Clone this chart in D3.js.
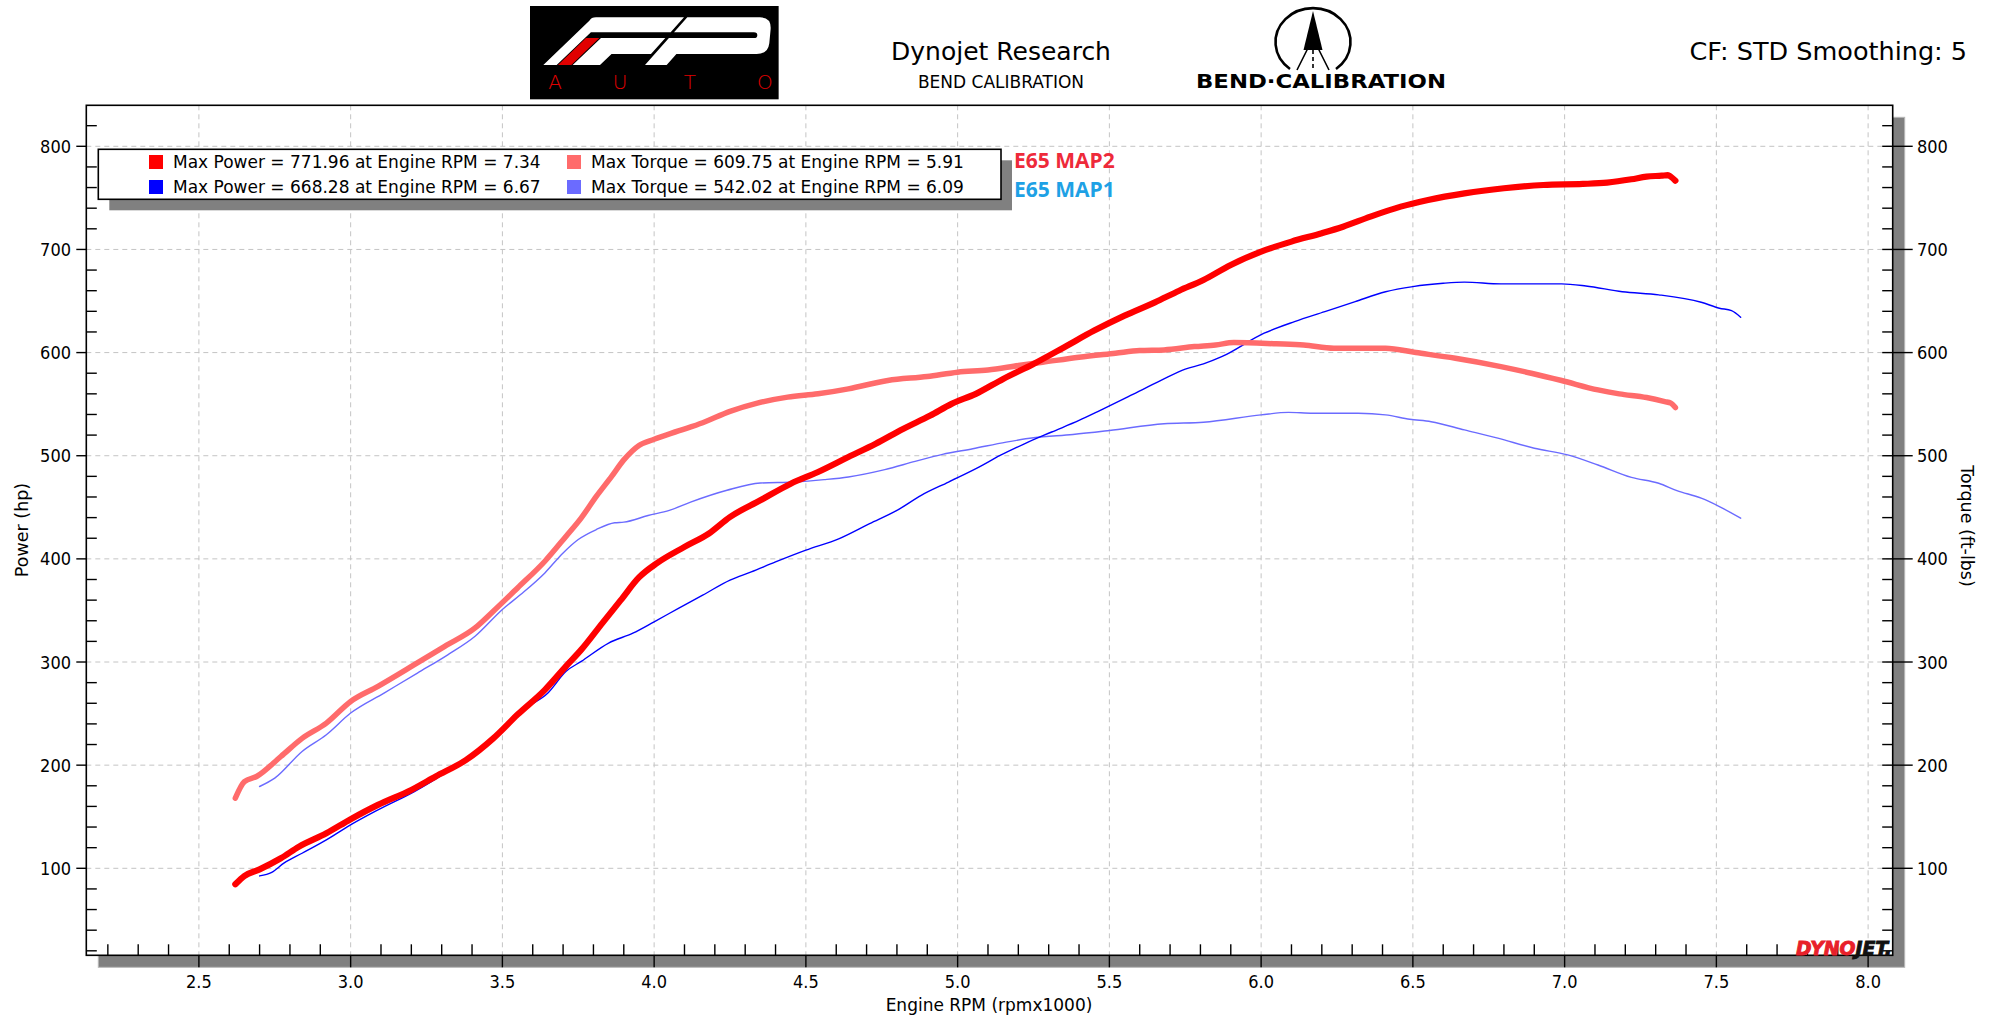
<!DOCTYPE html>
<html>
<head>
<meta charset="utf-8">
<script src="https://cdn.jsdelivr.net/npm/d3@7"></script>
<style>
  body { margin: 0; background: #fff; }
  svg { display: block; font-family: "DejaVu Sans Condensed", "Liberation Sans", sans-serif; }
  .wide { font-family: "DejaVu Sans", "Liberation Sans", sans-serif; }
</style>
</head>
<body>
<div id="chart"></div>
<script>
// ---- data ----
var map2PowerRpm = [2.62, 2.65, 2.70, 2.77, 2.83, 2.92, 3.00, 3.09, 3.20, 3.28, 3.38, 3.47, 3.55, 3.64, 3.71, 3.76, 3.83, 3.89, 3.95, 4.01, 4.10, 4.18, 4.25, 4.35, 4.45, 4.54, 4.64, 4.73, 4.82, 4.91, 4.98, 5.06, 5.15, 5.25, 5.35, 5.45, 5.55, 5.65, 5.73, 5.81, 5.90, 6.00, 6.10, 6.20, 6.27, 6.36, 6.46, 6.55, 6.67, 6.80, 6.93, 7.06, 7.14, 7.22, 7.27, 7.32, 7.34, 7.35, 7.365];
var map2PowerHp = [84.5, 92.6, 99, 109.7, 121, 134, 147.6, 161.5, 176, 189, 205, 226, 249, 273, 296, 312, 338, 360, 382, 396, 411.6, 424.5, 440.6, 456.8, 472.9, 484.2, 498.7, 511.6, 526, 539, 550.3, 560, 574.5, 589, 605, 621.3, 635.8, 648.7, 660, 670.4, 685, 697.9, 707.6, 715.7, 722, 731.8, 741.5, 748, 754.4, 759.3, 762.5, 763.5, 764.8, 768, 770.6, 771.5, 772, 770.5, 766.7];

var map2TorqueRpm = [2.62, 2.65, 2.69, 2.77, 2.84, 2.92, 3.00, 3.09, 3.21, 3.31, 3.41, 3.47, 3.55, 3.64, 3.71, 3.76, 3.81, 3.86, 3.90, 3.95, 4.00, 4.08, 4.16, 4.25, 4.34, 4.44, 4.54, 4.64, 4.77, 4.90, 5.00, 5.10, 5.20, 5.28, 5.40, 5.52, 5.60, 5.68, 5.78, 5.85, 5.91, 6.05, 6.14, 6.24, 6.41, 6.51, 6.64, 6.79, 6.89, 6.99, 7.11, 7.18, 7.27, 7.33, 7.35, 7.365];
var map2TorqueFtlb = [168, 184, 189, 208.4, 226, 240.8, 261.8, 276.4, 297.4, 315.2, 333, 349.2, 371.8, 397.7, 422, 439.8, 460.8, 480, 496, 510, 516, 524, 532, 543, 551, 556.8, 560, 564.8, 573, 576.8, 581, 583.2, 587.4, 590.6, 595.5, 599.4, 602, 602.6, 605.8, 607.4, 609.7, 608.5, 607.4, 604.2, 604.2, 600, 594.5, 586.4, 580, 572.9, 563.8, 560, 556.4, 552.5, 551, 546.7];

var map1PowerRpm = [2.70, 2.74, 2.78, 2.84, 2.92, 2.99, 3.09, 3.21, 3.32, 3.41, 3.49, 3.57, 3.65, 3.71, 3.76, 3.85, 3.93, 4.00, 4.08, 4.16, 4.25, 4.32, 4.40, 4.50, 4.61, 4.71, 4.80, 4.88, 4.97, 5.07, 5.14, 5.22, 5.31, 5.40, 5.47, 5.57, 5.67, 5.75, 5.81, 5.87, 6.01, 6.11, 6.21, 6.31, 6.41, 6.50, 6.60, 6.67, 6.79, 6.99, 7.07, 7.19, 7.31, 7.45, 7.51, 7.55, 7.58];
var map1PowerHp = [92.6, 96, 105, 114.6, 127.5, 140.4, 156.6, 174.4, 194, 211.7, 229.4, 253.7, 270, 291, 300.6, 318.4, 328, 339, 352, 364.8, 379.4, 387.4, 397, 408.4, 419.7, 434.2, 447, 461.6, 474.5, 489, 500.3, 511.6, 523, 534.2, 544, 558.4, 573, 584, 589, 596, 618.8, 630, 639.7, 649.4, 659, 664, 667.2, 668.3, 666.6, 666.6, 664.6, 659, 656, 648.8, 643, 640.7, 634.2];

var map1TorqueRpm = [2.70, 2.75, 2.84, 2.92, 3.00, 3.11, 3.22, 3.32, 3.41, 3.50, 3.56, 3.64, 3.70, 3.75, 3.81, 3.87, 3.90, 3.98, 4.05, 4.12, 4.24, 4.35, 4.46, 4.56, 4.64, 4.76, 4.86, 4.95, 5.05, 5.16, 5.25, 5.38, 5.50, 5.68, 5.81, 6.00, 6.09, 6.17, 6.32, 6.41, 6.49, 6.56, 6.67, 6.78, 6.90, 7.01, 7.11, 7.22, 7.31, 7.37, 7.45, 7.51, 7.58];
var map1TorqueFtlb = [179.3, 187.4, 213.3, 229.5, 250.5, 269.9, 289.3, 307, 325, 351, 365.4, 386.4, 405.8, 418.8, 428.5, 435, 435.6, 442, 447, 455, 466.5, 473.5, 474.5, 476.8, 479.4, 486.5, 494.5, 501.3, 506.8, 513.2, 517.4, 520.6, 524.5, 531, 532.5, 539.6, 542.0, 541.2, 541.2, 539.6, 535.4, 533, 525, 517, 507.3, 500.8, 491, 479, 473.3, 466.2, 458.8, 450.7, 439.4];

var xTicks = [2.5, 3.0, 3.5, 4.0, 4.5, 5.0, 5.5, 6.0, 6.5, 7.0, 7.5, 8.0];
var yTicks = [100, 200, 300, 400, 500, 600, 700, 800];
var legendLabels = [
  "Max Power = 771.96 at Engine RPM = 7.34",
  "Max Torque = 609.75 at Engine RPM = 5.91",
  "Max Power = 668.28 at Engine RPM = 6.67",
  "Max Torque = 542.02 at Engine RPM = 6.09"
];
var runNames = ["E65 MAP2", "E65 MAP1"];

// ---- layout ----
var W = 2000, H = 1024;
var plot = { left: 86.3, right: 1892.7, top: 105.3, bottom: 955.3 };

var svg = d3.select("#chart").append("svg").attr("width", W).attr("height", H);

var x = d3.scaleLinear().domain([2.129, 8.081]).range([plot.left, plot.right]);
var y = d3.scaleLinear().domain([15.65, 839.75]).range([plot.bottom, plot.top]);
var yT = y.copy(); // torque axis shares the same scale

var minorX = d3.range(22, 81).map((d) => d / 10).filter((d) => Math.round(d * 10) % 5 != 0);
var minorY = d3.range(20, 840, 20).filter((d) => d % 100 != 0);

// plot shadow + area
svg.append("rect")
  .attr("x", plot.left + 12).attr("y", plot.top + 12)
  .attr("width", plot.right - plot.left).attr("height", plot.bottom - plot.top)
  .attr("fill", "#808080").attr("stroke", "#b8b8b8").attr("stroke-width", 1);
svg.append("rect")
  .attr("x", plot.left).attr("y", plot.top)
  .attr("width", plot.right - plot.left).attr("height", plot.bottom - plot.top)
  .attr("fill", "#fff");

// dashed grid
svg.append("g").selectAll("line").data(xTicks).join("line")
  .attr("x1", (d) => x(d)).attr("x2", (d) => x(d))
  .attr("y1", plot.top).attr("y2", plot.bottom)
  .attr("stroke", "#c4c4c4").attr("stroke-width", 1).attr("stroke-dasharray", "5,4");
svg.append("g").selectAll("line").data(yTicks).join("line")
  .attr("x1", plot.left).attr("x2", plot.right)
  .attr("y1", (d) => y(d)).attr("y2", (d) => y(d))
  .attr("stroke", "#c4c4c4").attr("stroke-width", 1).attr("stroke-dasharray", "5,4");

// curves
svg.append("clipPath").attr("id", "clip").append("rect")
  .attr("x", plot.left).attr("y", plot.top)
  .attr("width", plot.right - plot.left).attr("height", plot.bottom - plot.top);

var line = d3.line().x((d) => x(d[0])).y((d) => y(d[1])).curve(d3.curveMonotoneX);
var series = [
  { rpm: map1TorqueRpm, val: map1TorqueFtlb, color: "#6b6bff", width: 1.4 },
  { rpm: map1PowerRpm, val: map1PowerHp, color: "#0000ff", width: 1.4 },
  { rpm: map2TorqueRpm, val: map2TorqueFtlb, color: "#ff6b6b", width: 5.5 },
  { rpm: map2PowerRpm, val: map2PowerHp, color: "#ff0000", width: 6.2 }
];
svg.append("g").attr("clip-path", "url(#clip)")
  .selectAll("path").data(series).join("path")
  .attr("d", (s) => line(s.rpm.map((r, i) => [r, s.val[i]])))
  .attr("fill", "none")
  .attr("stroke", (s) => s.color)
  .attr("stroke-width", (s) => s.width)
  .attr("stroke-linecap", "round")
  .attr("stroke-linejoin", "round");

// frame
svg.append("rect")
  .attr("x", plot.left).attr("y", plot.top)
  .attr("width", plot.right - plot.left).attr("height", plot.bottom - plot.top)
  .attr("fill", "none").attr("stroke", "#000").attr("stroke-width", 1.6);

var ticks = svg.append("g").attr("stroke", "#000").attr("stroke-width", 1.4);
// x ticks: minor inward, major outward
ticks.selectAll(".xmin").data(minorX).join("line").attr("class", "xmin")
  .attr("x1", (d) => x(d)).attr("x2", (d) => x(d))
  .attr("y1", plot.bottom).attr("y2", plot.bottom - 11);
ticks.selectAll(".xmaj").data(xTicks).join("line").attr("class", "xmaj")
  .attr("x1", (d) => x(d)).attr("x2", (d) => x(d))
  .attr("y1", plot.bottom).attr("y2", plot.bottom + 12);
// left y ticks
ticks.selectAll(".ylmin").data(minorY).join("line").attr("class", "ylmin")
  .attr("x1", plot.left).attr("x2", plot.left + 10.5)
  .attr("y1", (d) => y(d)).attr("y2", (d) => y(d));
ticks.selectAll(".ylmaj").data(yTicks).join("line").attr("class", "ylmaj")
  .attr("x1", plot.left - 10).attr("x2", plot.left)
  .attr("y1", (d) => y(d)).attr("y2", (d) => y(d));
// right y ticks
ticks.selectAll(".yrmin").data(minorY).join("line").attr("class", "yrmin")
  .attr("x1", plot.right - 10.5).attr("x2", plot.right)
  .attr("y1", (d) => yT(d)).attr("y2", (d) => yT(d));
ticks.selectAll(".yrmaj").data(yTicks).join("line").attr("class", "yrmaj")
  .attr("x1", plot.right - 10.5).attr("x2", plot.right + 20)
  .attr("y1", (d) => yT(d)).attr("y2", (d) => yT(d));

// tick labels
svg.append("g").selectAll("text").data(xTicks).join("text")
  .attr("x", (d) => x(d)).attr("y", 987.5)
  .attr("text-anchor", "middle").attr("font-size", 18)
  .text((d) => d.toFixed(1));
svg.append("g").selectAll("text").data(yTicks).join("text")
  .attr("x", 71).attr("y", (d) => y(d) + 6.5)
  .attr("text-anchor", "end").attr("font-size", 18)
  .text((d) => d);
svg.append("g").selectAll("text").data(yTicks).join("text")
  .attr("x", 1917).attr("y", (d) => yT(d) + 6.5)
  .attr("font-size", 18)
  .text((d) => d);

// axis titles
svg.append("text").attr("class", "wide").attr("x", 989).attr("y", 1011).attr("text-anchor", "middle")
  .attr("font-size", 17).text("Engine RPM (rpmx1000)");
svg.append("text").attr("class", "wide").attr("transform", "translate(28,530) rotate(-90)")
  .attr("text-anchor", "middle").attr("font-size", 17.5).text("Power (hp)");
svg.append("text").attr("class", "wide").attr("transform", "translate(1961,526) rotate(90)")
  .attr("text-anchor", "middle").attr("font-size", 17.5).text("Torque (ft-lbs)");

// legend
var lg = { x: 98.3, y: 149.3, w: 902.7, h: 50 };
svg.append("rect").attr("x", lg.x + 11).attr("y", lg.y + 11)
  .attr("width", lg.w).attr("height", lg.h).attr("fill", "#808080");
svg.append("rect").attr("x", lg.x).attr("y", lg.y)
  .attr("width", lg.w).attr("height", lg.h)
  .attr("fill", "#fff").attr("stroke", "#000").attr("stroke-width", 1.6);
var legendColors = ["#ff0000", "#ff6b6b", "#0000ff", "#6b6bff"];
legendLabels.forEach(function (label, i) {
  var col = i % 2, row = Math.floor(i / 2);
  var sx = col == 0 ? 149 : 567;
  svg.append("rect").attr("x", sx).attr("y", 155 + row * 25)
    .attr("width", 14).attr("height", 14).attr("fill", legendColors[i]);
  svg.append("text").attr("class", "wide").attr("x", sx + 24).attr("y", 168 + row * 25)
    .attr("font-size", 17).text(label);
});

// run names
svg.append("text").attr("x", 1014).attr("y", 168)
  .attr("font-family", "'Open Sans', 'Noto Sans', sans-serif").attr("font-weight", "bold")
  .attr("font-size", 21).attr("fill", "#ee2a3a").text(runNames[0]);
svg.append("text").attr("x", 1014).attr("y", 197)
  .attr("font-family", "'Open Sans', 'Noto Sans', sans-serif").attr("font-weight", "bold")
  .attr("font-size", 21).attr("fill", "#1ea1e5").text(runNames[1]);

// header text
svg.append("text").attr("class", "wide").attr("x", 1001).attr("y", 60).attr("text-anchor", "middle")
  .attr("font-size", 25).text("Dynojet Research");
svg.append("text").attr("class", "wide").attr("x", 1001).attr("y", 88).attr("text-anchor", "middle")
  .attr("font-size", 17).text("BEND CALIBRATION");
svg.append("text").attr("class", "wide").attr("x", 1967).attr("y", 60).attr("text-anchor", "end")
  .attr("font-size", 25.5).text("CF: STD Smoothing: 5");

// FP AUTO badge (drawn in 3x coords)
var fp = svg.append("g").attr("transform", "translate(530,4) scale(0.3333)");
fp.append("rect").attr("x", 0).attr("y", 6).attr("width", 746).attr("height", 280).attr("fill", "#000");
fp.append("path").attr("fill", "#fff")
  .attr("d", "M178,50 Q184,40 198,40 L462,40 L422,85 L182.8,85 L80,183 L40,183 Z");
fp.append("path").attr("fill", "#e10000")
  .attr("d", "M168,102 L208,102 L124,183 L84,183 Z");
fp.append("path").attr("fill", "#fff")
  .attr("d", "M213,102 L406,102 L363,150 L244.6,150 L210,183 L128,183 Z");
fp.append("path").attr("fill", "#fff").attr("fill-rule", "evenodd")
  .attr("d", "M472,40 L690,40 Q724,40 722,75 L718,118 Q714,150 680,150 L439.3,150 L410,183 L345,183 Z " +
    "M432,85 L672,85 Q682,85 682,93.5 Q682,102 672,102 L416.9,102 Z");
var autoX = [75, 270, 480, 705];
["A", "U", "T", "O"].forEach(function (c, i) {
  fp.append("text").attr("x", autoX[i]).attr("y", 255).attr("text-anchor", "middle")
    .attr("font-family", "'DejaVu Sans', sans-serif").attr("font-weight", 200)
    .attr("font-size", 60).attr("fill", "#e10000").text(c);
});

// Bend Calibration mark
var bc = svg.append("g");
bc.append("path").attr("d", "M1290,69 A37.5,34 0 1 1 1336,69")
  .attr("fill", "none").attr("stroke", "#000").attr("stroke-width", 2.6);
bc.append("path").attr("d", "M1313,11 L1303.5,50 L1322.5,50 Z").attr("fill", "#000");
bc.append("line").attr("x1", 1313).attr("x2", 1313).attr("y1", 50).attr("y2", 70)
  .attr("stroke", "#000").attr("stroke-width", 1.6).attr("stroke-dasharray", "4,3");
bc.append("path").attr("d", "M1297,70 L1309,46 M1329,70 L1317,46")
  .attr("fill", "none").attr("stroke", "#000").attr("stroke-width", 1.6);
bc.append("text").attr("x", 1196).attr("y", 88).attr("textLength", 250)
  .attr("lengthAdjust", "spacingAndGlyphs")
  .attr("font-family", "'DejaVu Sans', sans-serif").attr("font-weight", "bold")
  .attr("font-size", 19).text("BEND·CALIBRATION");

// DYNOJET mark
var dj = svg.append("text").attr("x", 1796).attr("y", 955).attr("textLength", 96)
  .attr("lengthAdjust", "spacingAndGlyphs")
  .attr("font-family", "'DejaVu Sans', sans-serif").attr("font-style", "italic")
  .attr("font-weight", "bold").attr("font-size", 19).attr("stroke-width", 0.9);
dj.append("tspan").attr("fill", "#e8202a").attr("stroke", "#e8202a").text("DYNO");
dj.append("tspan").attr("fill", "#111").attr("stroke", "#111").text("JET.");
</script>
</body>
</html>
